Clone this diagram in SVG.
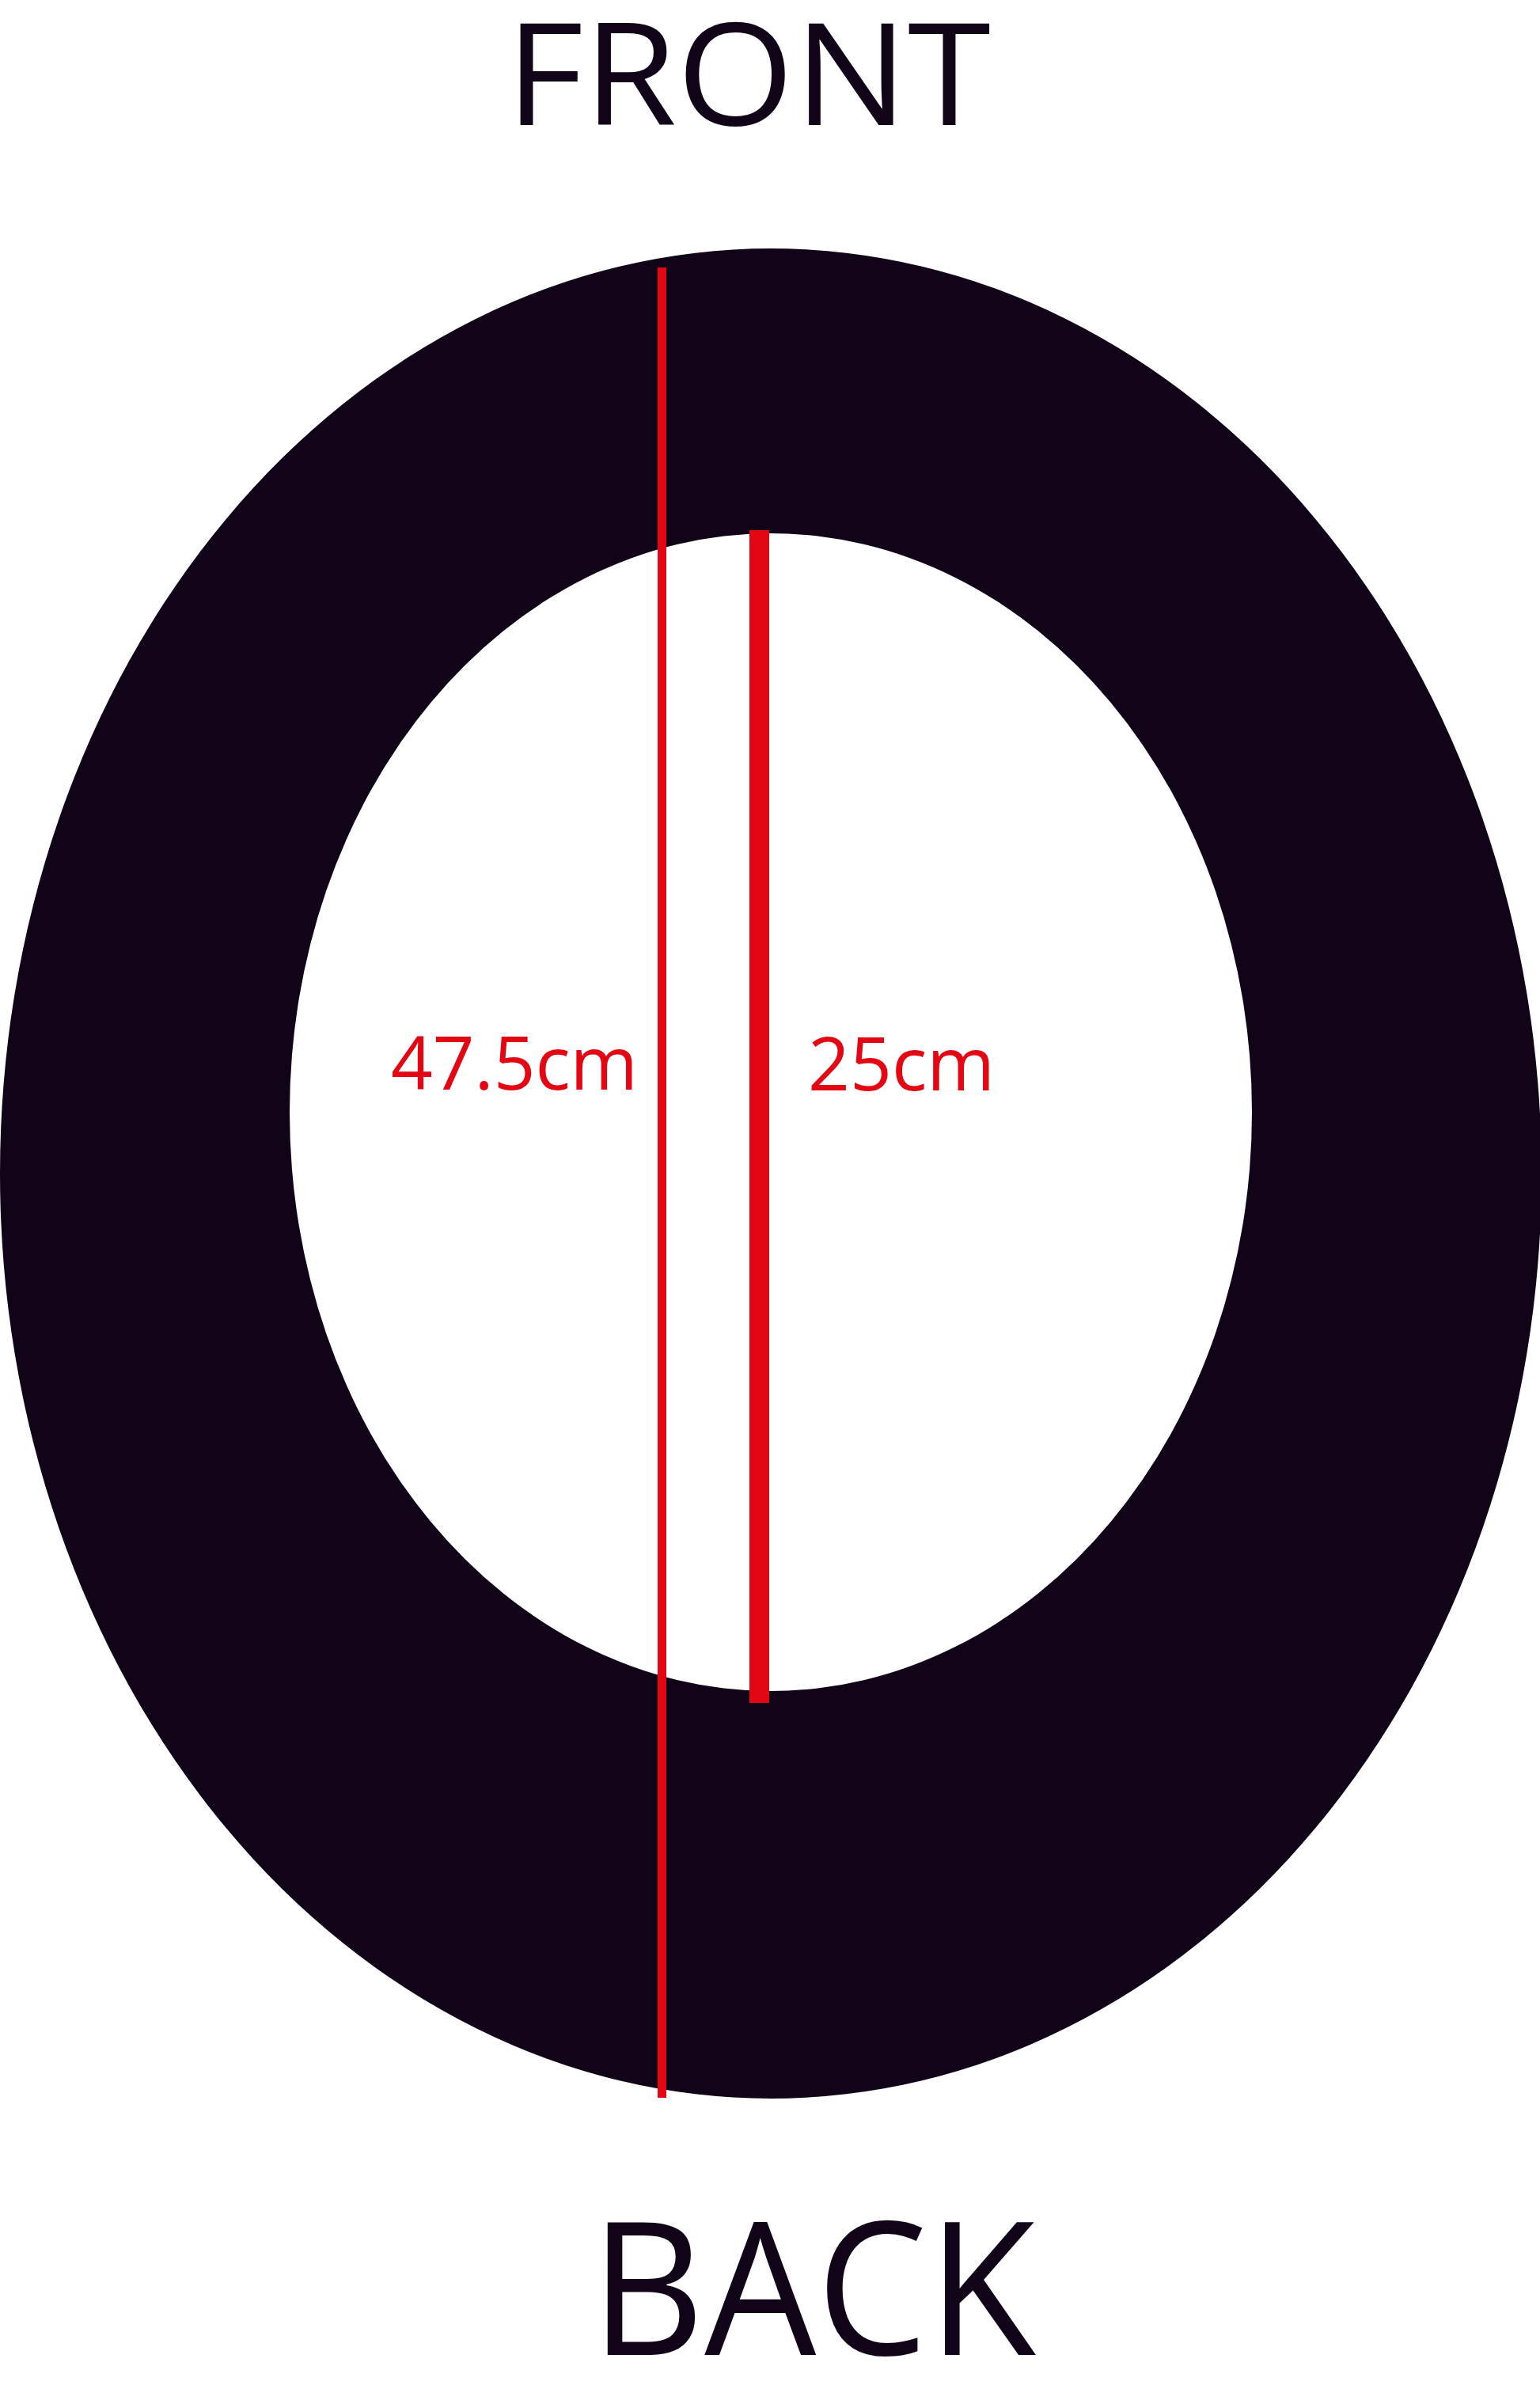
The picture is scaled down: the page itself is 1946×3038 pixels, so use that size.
<svg xmlns="http://www.w3.org/2000/svg" width="1946" height="3038" viewBox="0 0 1946 3038">
  <style>
    .lbl { font-family: "Open Sans", "Liberation Sans", sans-serif; fill: #110418; }
    .dim { font-family: "Open Sans", "Liberation Sans", sans-serif; fill: #E30613; font-size: 94px; }
    .red { fill: #E30613; }
  </style>
  <rect width="1946" height="3038" fill="#ffffff"/>
  <g id="ring">
    <path fill="#110418" fill-rule="evenodd" d="M 0 1483 A 974 1169 0 1 0 1948 1483 A 974 1169 0 1 0 0 1483 Z M 366 1405.5 A 608 731.5 0 1 0 1582 1405.5 A 608 731.5 0 1 0 366 1405.5 Z"/>
  </g>
  <g id="connectors">
    <rect id="line-outer" class="red" x="831" y="338" width="11" height="2313"/>
    <rect id="line-inner" class="red" x="947" y="670" width="25" height="1482"/>
  </g>
  <g id="label-front">
    <text class="lbl" x="639" y="158" font-size="179" textLength="613" lengthAdjust="spacingAndGlyphs">FRONT</text>
  </g>
  <g id="label-back">
    <text class="lbl" x="746" y="2976" font-size="234" textLength="563" lengthAdjust="spacingAndGlyphs">BACK</text>
  </g>
  <g id="dim-outer">
    <text class="dim" x="494" y="1377" textLength="312" lengthAdjust="spacingAndGlyphs">47.5cm</text>
  </g>
  <g id="dim-inner">
    <text class="dim" x="1021" y="1378" textLength="236" lengthAdjust="spacingAndGlyphs">25cm</text>
  </g>
</svg>
